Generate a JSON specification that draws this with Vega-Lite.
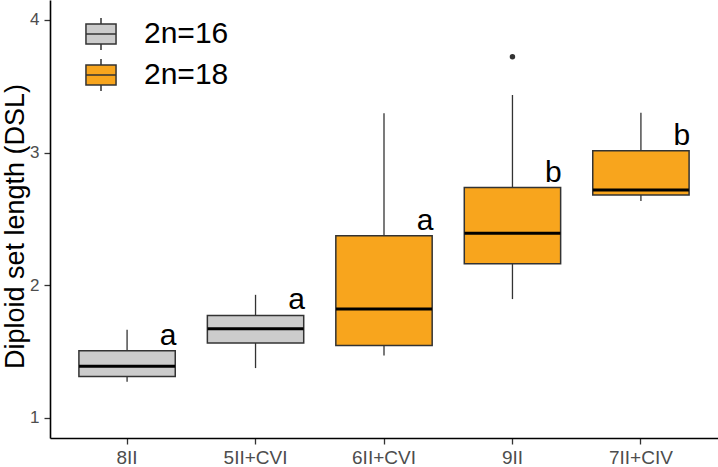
{
  "$schema": "https://vega.github.io/schema/vega-lite/v6.json",
  "width": 668,
  "height": 438,
  "autosize": {"type": "none"},
  "padding": {"left": 50, "top": 0, "right": 0, "bottom": 29},
  "background": "white",
  "config": {
    "view": {"stroke": null},
    "font": "Liberation Sans",
    "axis": {"grid": false, "domainColor": "#000000", "domainWidth": 1.6, "tickColor": "#333333", "tickWidth": 1.3, "tickSize": 6, "labelColor": "#4D4D4D"}
  },
  "datasets": {
    "boxes": [
      {"karyotype": "8II", "chromosomes": "2n=16", "lower": 1.273, "q1": 1.313, "median": 1.389, "q3": 1.507, "upper": 1.665, "group": "a"},
      {"karyotype": "5II+CVI", "chromosomes": "2n=16", "lower": 1.376, "q1": 1.565, "median": 1.672, "q3": 1.773, "upper": 1.928, "group": "a"},
      {"karyotype": "6II+CVI", "chromosomes": "2n=18", "lower": 1.471, "q1": 1.547, "median": 1.821, "q3": 2.373, "upper": 3.297, "group": "a"},
      {"karyotype": "9II", "chromosomes": "2n=18", "lower": 1.896, "q1": 2.162, "median": 2.393, "q3": 2.736, "upper": 3.434, "group": "b"},
      {"karyotype": "7II+CIV", "chromosomes": "2n=18", "lower": 2.636, "q1": 2.681, "median": 2.719, "q3": 3.013, "upper": 3.301, "group": "b"}
    ],
    "outliers": [
      {"karyotype": "9II", "chromosomes": "2n=18", "dsl": 3.723}
    ]
  },
  "encoding": {
    "x": {
      "field": "karyotype",
      "type": "nominal",
      "sort": ["8II", "5II+CVI", "6II+CVI", "9II", "7II+CIV"],
      "scale": {"paddingInner": 0.25, "paddingOuter": 0.225},
      "axis": {"title": null, "labelAngle": 0, "labelFontSize": 19, "labelPadding": 4}
    }
  },
  "layer": [
    {
      "data": {"name": "boxes"},
      "mark": {"type": "rule", "stroke": "#333333", "strokeWidth": 1.3},
      "encoding": {
        "y": {
          "field": "lower",
          "type": "quantitative",
          "scale": {"domain": [0.849, 4.15], "nice": false, "zero": false},
          "axis": {"values": [1, 2, 3, 4], "format": "d", "title": "Diploid set length (DSL)", "titleFontSize": 27, "titleFontWeight": "normal", "titleColor": "#000000", "titlePadding": 0, "titleY": 226, "labelFontSize": 17, "labelPadding": 5}
        },
        "y2": {"field": "upper"}
      }
    },
    {
      "data": {"name": "boxes"},
      "mark": {"type": "bar", "stroke": "#333333", "strokeWidth": 1.5},
      "encoding": {
        "y": {"field": "q1", "type": "quantitative"},
        "y2": {"field": "q3"},
        "fill": {
          "field": "chromosomes",
          "type": "nominal",
          "scale": {"domain": ["2n=16", "2n=18"], "range": ["#CCCCCC", "#F8A51D"]},
          "legend": {
            "title": null,
            "orient": "none",
            "legendX": 34,
            "legendY": 17,
            "padding": 0,
            "symbolType": "M-0.94,-0.625H0.94V0.625H-0.94Z M-0.94,0H0.94 M0,-0.625V-1 M0,0.625V1",
            "symbolSize": 1024,
            "symbolStrokeColor": "#333333",
            "symbolStrokeWidth": 1.5,
            "symbolOpacity": 1,
            "labelFontSize": 30,
            "labelColor": "#000000",
            "labelOffset": 26,
            "rowPadding": 3
          }
        }
      }
    },
    {
      "data": {"name": "boxes"},
      "mark": {"type": "tick", "color": "#000000", "thickness": 3, "size": 96, "opacity": 1},
      "encoding": {
        "y": {"field": "median", "type": "quantitative"}
      }
    },
    {
      "data": {"name": "outliers"},
      "mark": {"type": "circle", "color": "#333333", "size": 30, "opacity": 1},
      "encoding": {
        "y": {"field": "dsl", "type": "quantitative"}
      }
    },
    {
      "data": {"name": "boxes"},
      "mark": {"type": "text", "fontSize": 30, "color": "#000000", "align": "center", "baseline": "alphabetic", "xOffset": 41, "dy": -6},
      "encoding": {
        "y": {"field": "q3", "type": "quantitative"},
        "text": {"field": "group"}
      }
    }
  ]
}
